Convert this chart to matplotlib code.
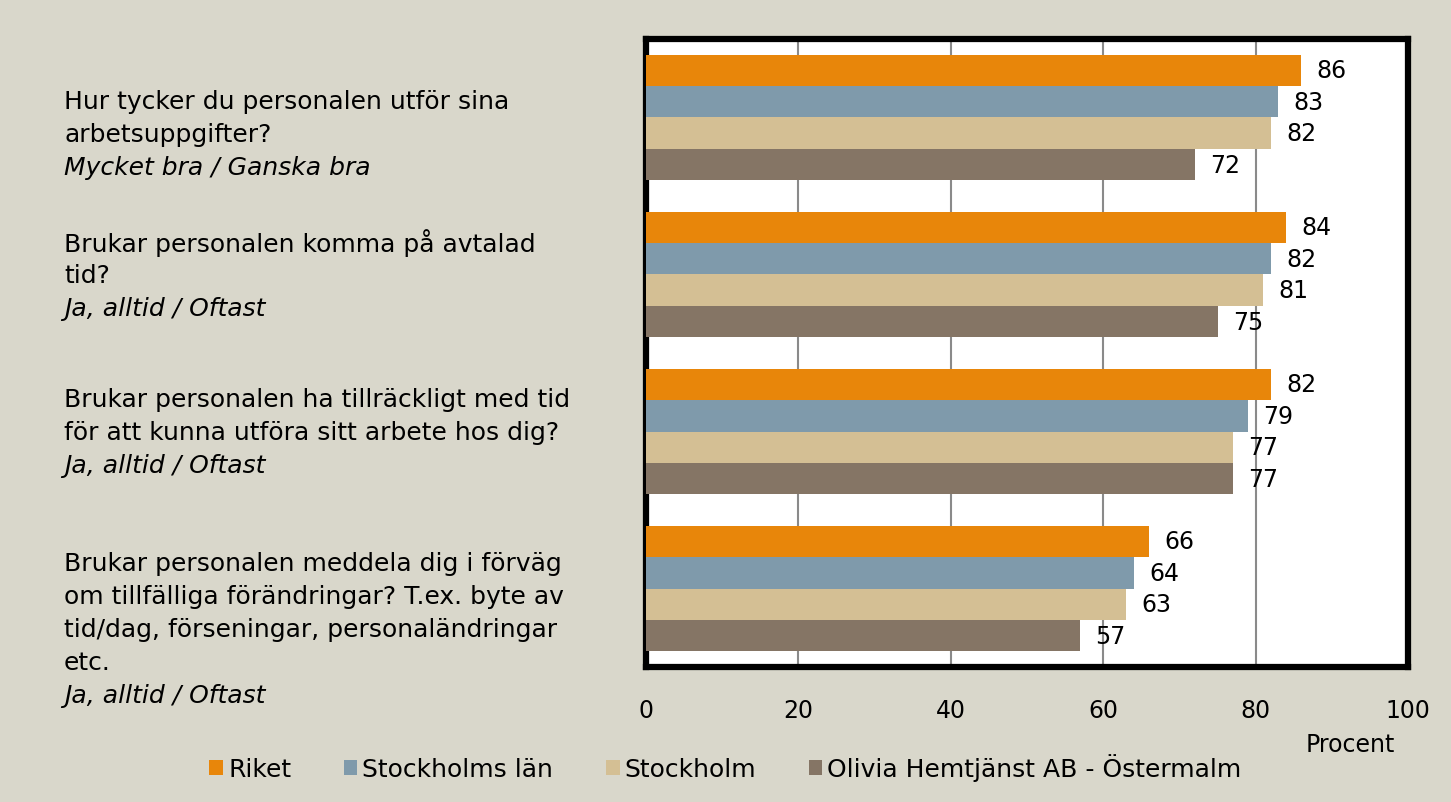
import numpy as np
import matplotlib.pyplot as plt

questions = [
    ["Hur tycker du personalen utför sina", "arbetsuppgifter?"],
    ["Brukar personalen komma på avtalad", "tid?"],
    ["Brukar personalen ha tillräckligt med tid", "för att kunna utföra sitt arbete hos dig?"],
    ["Brukar personalen meddela dig i förväg", "om tillfälliga förändringar? T.ex. byte av",
     "tid/dag, förseningar, personaländringar", "etc."],
]
answers = ["Mycket bra / Ganska bra", "Ja, alltid / Oftast", "Ja, alltid / Oftast", "Ja, alltid / Oftast"]

series = ["Riket", "Stockholms län", "Stockholm", "Olivia Hemtjänst AB - Östermalm"]
riket = [86, 84, 82, 66]
stockholms_lan = [83, 82, 79, 64]
stockholm = [82, 81, 77, 63]
olivia = [72, 75, 77, 57]
values = [riket, stockholms_lan, stockholm, olivia]
colors = ["#E8860A", "#7F9AAB", "#D4BF94", "#857565"]

bg = "#D9D7CB"
fs = 17
fs_big = 18
plt.rcParams['font.family'] = ['DejaVu Sans']

fig = plt.figure(figsize=(14.51, 8.03), dpi=100, facecolor=bg)
ax = fig.add_axes([0.4452, 0.1681, 0.5252, 0.7821])

y = np.arange(len(questions))
h = 0.2
for j, (name, vals, c) in enumerate(zip(series, values, colors)):
    pos = y + (j - 1.5) * h
    ax.barh(pos, vals, height=h, color=c, label=name, zorder=3)
    for p, v in zip(pos, vals):
        ax.text(v + 2.0, p, str(v), va='center', ha='left', fontsize=fs, color='black', zorder=4)

ax.set_xlim(0, 100)
ax.set_ylim(3.5, -0.5)
ax.set_xticks(range(0, 101, 20))
ax.set_yticks([])
ax.tick_params(axis='x', length=0, labelsize=fs, pad=22)
ax.grid(axis='x', color='#8a8a8a', linewidth=1.5, zorder=0)
for s in ax.spines.values():
    s.set_linewidth(4.5)
    s.set_color('black')

fig.text(1395 / 1451, 1 - 745 / 803, "Procent", ha='right', va='center', fontsize=fs)

# question labels on the left
tops = [102, 243, 400, 564]
for q, a, t in zip(questions, answers, tops):
    for k, line in enumerate(q):
        fig.text(64 / 1451, 1 - (t + 33 * k) / 803, line, ha='left', va='center', fontsize=fs_big)
    fig.text(64 / 1451, 1 - (t + 33 * len(q)) / 803, a, ha='left', va='center',
             fontsize=fs_big, style='italic')

leg = fig.legend(loc='center', bbox_to_anchor=(0.5, 1 - 768 / 803), ncol=4, frameon=False,
                 fontsize=fs_big, handlelength=0.55, handleheight=0.55, handletextpad=0.2,
                 columnspacing=2.1)

fig.savefig("out.png", dpi=100, facecolor=bg)
